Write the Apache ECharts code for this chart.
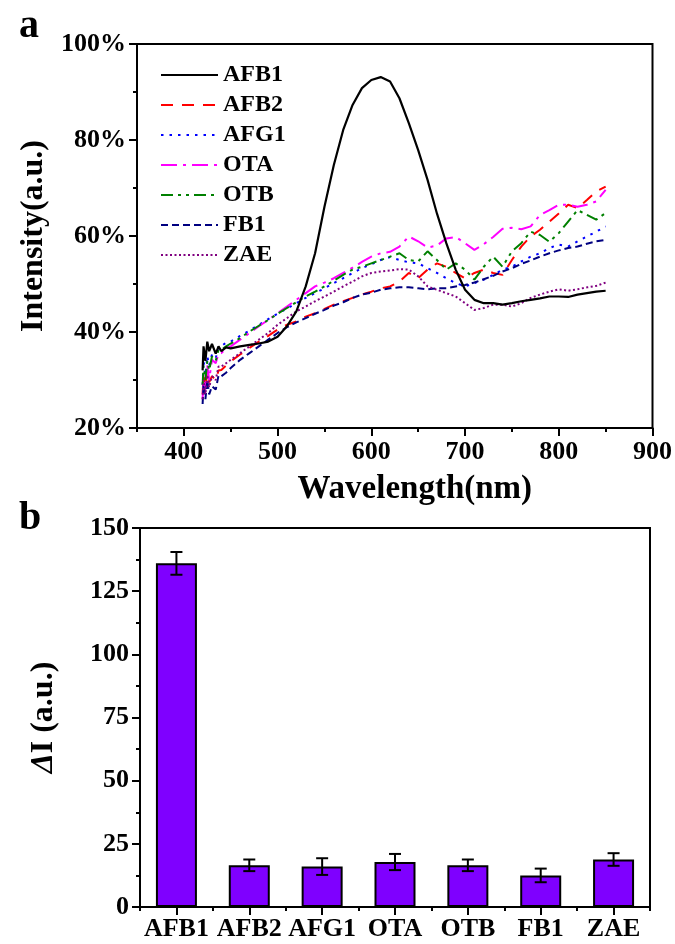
<!DOCTYPE html>
<html>
<head>
<meta charset="utf-8">
<script src="https://cdn.jsdelivr.net/npm/echarts@6/dist/echarts.min.js"></script>
<style>
  html, body { margin: 0; padding: 0; background: #fff; }
</style>
</head>
<body>
<div id="main" style="width: 675px; height: 944px"></div>
<script>
// panel a: spectra, wavelength in nm
var wavelengths = [420, 421, 423, 425, 427, 430, 434, 437, 440, 445, 450,
  460, 470, 480, 490, 500, 510, 520, 530, 540, 550, 560, 570, 580, 590, 600,
  610, 620, 630, 640, 650, 660, 670, 680, 690, 700, 710, 720, 730, 740, 750,
  760, 770, 780, 790, 800, 810, 820, 830, 840, 850];

var afb1 = [32, 37, 34, 38, 36, 37.5, 35.5, 37, 36, 36.8, 36.6,
  37.0, 37.3, 37.6, 38.0, 39.0, 41.2, 44.3, 49.5, 56.4, 66.1, 74.8, 82.1, 87.3, 90.8, 92.5,
  93.1, 92.2, 88.7, 83.5, 77.9, 71.7, 64.7, 58.5, 53.0, 48.8, 46.7, 46.0, 46.0, 45.7, 46.0,
  46.4, 46.7, 47.0, 47.4, 47.4, 47.3, 47.8, 48.1, 48.4, 48.6];
var afb2 = [27, 31, 28, 32, 29.5, 30.8, 30, 32, 32.1, 33, 33.9,
  35.3, 36.7, 38.0, 39.2, 40.5, 41.5, 42.2, 43.2, 43.9, 44.8, 45.7, 46.4, 47.1, 47.8, 48.4,
  49.1, 49.5, 50.5, 52.3, 51.2, 53.0, 54.3, 53.6, 52.3, 51.2, 52.3, 53.0, 52.3, 51.9, 55.0,
  57.8, 59.9, 61.3, 63.0, 64.7, 66.5, 65.8, 67.5, 69.3, 70.3];
var afg1 = [29, 34, 31, 35, 33, 35.3, 34.5, 37, 37, 37.8, 38,
  39.2, 40.3, 41.5, 42.7, 43.8, 44.9, 46.0, 47.1, 48.1, 49.1, 50.2, 51.2, 52.3, 53.3, 54.1,
  55.0, 55.6, 55.0, 54.5, 54.3, 53.3, 52.3, 51.2, 50.2, 49.5, 50.2, 50.9, 51.9, 53.0, 53.6,
  54.7, 55.7, 56.4, 57.5, 58.2, 57.8, 58.9, 59.9, 60.9, 62.0];
var ota = [26, 31, 28, 33, 30, 34.2, 33.5, 35.5, 35.6, 36.5, 37,
  38.4, 39.8, 41.2, 42.5, 43.9, 45.3, 46.7, 48.1, 49.5, 50.3, 51.2, 52.3, 53.4, 54.6, 55.7,
  56.4, 56.7, 57.8, 59.9, 58.9, 57.6, 58.0, 59.5, 59.8, 58.5, 57.1, 58.3, 59.8, 61.5, 61.7,
  61.4, 62.0, 64.4, 65.4, 66.5, 66.5, 66.1, 66.5, 67.2, 69.6];
var otb = [29, 33, 30, 34, 32, 34.9, 34, 36.3, 36.3, 37, 37.6,
  38.7, 40.1, 41.3, 42.5, 43.8, 45.0, 46.2, 47.4, 48.4, 49.5, 50.7, 51.9, 53.0, 53.6, 54.3,
  55.0, 55.7, 56.4, 55.0, 54.7, 56.8, 55.0, 53.0, 54.3, 53.0, 50.9, 53.6, 55.7, 53.6, 56.8,
  58.5, 60.9, 60.2, 58.8, 60.6, 63.0, 65.4, 64.4, 63.4, 64.8];
var fb1 = [25, 29, 26, 30, 27, 28.7, 28, 31, 30.8, 31.5, 32.5,
  34.2, 35.6, 37.0, 38.4, 39.8, 41.0, 42.0, 42.9, 43.8, 44.6, 45.5, 46.2, 47.1, 47.8, 48.2,
  48.8, 49.1, 49.3, 49.3, 49.1, 48.9, 49.1, 49.1, 49.5, 49.8, 50.3, 51.0, 51.7, 52.6, 53.3,
  54.2, 54.9, 55.7, 56.4, 57.0, 57.5, 57.8, 58.4, 58.9, 59.2];
var zae = [26, 30, 27, 31, 28.5, 30.8, 30, 32.8, 32.8, 33.5, 34.2,
  35.6, 37.0, 38.4, 39.8, 41.5, 42.9, 44.3, 45.3, 46.4, 47.4, 48.4, 49.5, 50.5, 51.6, 52.3,
  52.6, 52.8, 53.1, 53.0, 51.6, 49.5, 48.8, 48.1, 47.4, 46.0, 44.6, 45.0, 45.7, 45.7, 45.3,
  46.0, 47.1, 47.8, 48.4, 48.9, 48.6, 48.9, 49.3, 49.6, 50.3];

var xMajorTicks = [400, 500, 600, 700, 800, 900];

// panel b: response bars
var categories = ['AFB1', 'AFB2', 'AFG1', 'OTA', 'OTB', 'FB1', 'ZAE'];
var deltaI = [136, 16.5, 16, 17.8, 16.5, 12.5, 18.8];
var deltaErr = [4.5, 2.3, 3.3, 3.2, 2.3, 2.7, 2.5];

var font = 'Liberation Serif';
var chart = echarts.init(document.getElementById('main'));

function pairs(ys) {
  return wavelengths.map(function (w, i) { return [w, ys[i]]; });
}

function lineSeries(name, ys, color, dash, width) {
  return {
    name: name,
    type: 'line',
    xAxisIndex: 0,
    yAxisIndex: 0,
    data: pairs(ys),
    symbol: 'none',
    smooth: false,
    lineStyle: { color: color, width: width || 2, type: dash },
    itemStyle: { color: color },
    z: name === 'AFB1' ? 5 : 3
  };
}

function renderErr(params, api) {
  var i = api.value(0);
  var v = api.value(1);
  var e = api.value(2);
  var hi = api.coord([i, v + e]);
  var lo = api.coord([i, v - e]);
  var cap = 6;
  var st = { stroke: '#000', lineWidth: 2 };
  return {
    type: 'group',
    children: [
      { type: 'line', shape: { x1: hi[0], y1: hi[1], x2: lo[0], y2: lo[1] }, style: st },
      { type: 'line', shape: { x1: hi[0] - cap, y1: hi[1], x2: hi[0] + cap, y2: hi[1] }, style: st },
      { type: 'line', shape: { x1: lo[0] - cap, y1: lo[1], x2: lo[0] + cap, y2: lo[1] }, style: st }
    ]
  };
}

var tickLabel = { color: '#000', fontFamily: font, fontWeight: 'bold', fontSize: 26 };

var option = {
  animation: false,
  backgroundColor: '#fff',
  title: [
    { text: 'a', left: 14, top: 2, textStyle: { fontFamily: font, fontWeight: 'bold', fontSize: 40, color: '#000' } },
    { text: 'b', left: 14, top: 494, textStyle: { fontFamily: font, fontWeight: 'bold', fontSize: 40, color: '#000' } }
  ],
  legend: {
    data: ['AFB1', 'AFB2', 'AFG1', 'OTA', 'OTB', 'FB1', 'ZAE'],
    orient: 'vertical',
    left: 155,
    top: 58,
    itemWidth: 57,
    itemHeight: 14,
    itemGap: 6,
    itemStyle: { opacity: 0, borderWidth: 0 },
    textStyle: { color: '#000', fontFamily: font, fontWeight: 'bold', fontSize: 24, lineHeight: 20 }
  },
  grid: [
    { left: 137, top: 44, right: 22, height: 384, show: true, borderColor: '#000', borderWidth: 2 },
    { left: 140, top: 528, right: 25, height: 379, show: true, borderColor: '#000', borderWidth: 2 }
  ],
  xAxis: [
    {
      type: 'value', gridIndex: 0, min: 350, max: 900, interval: 50,
      name: 'Wavelength(nm)', nameLocation: 'middle', nameGap: 45,
      nameTextStyle: { color: '#000', fontFamily: font, fontWeight: 'bold', fontSize: 33, padding: [0, 0, 0, 40] },
      axisLine: { show: true, lineStyle: { color: '#000', width: 2 } },
      axisTick: { show: true, inside: false, length: 4, lineStyle: { color: '#000', width: 2 } },
      axisLabel: Object.assign({ margin: 11, customValues: xMajorTicks }, tickLabel),
      splitLine: { show: false }
    },
    {
      type: 'value', gridIndex: 0, min: 350, max: 900, position: 'bottom',
      axisLine: { show: false },
      axisTick: { show: true, length: 8, customValues: xMajorTicks, lineStyle: { color: '#000', width: 2 } },
      axisLabel: { show: false },
      splitLine: { show: false }
    },
    {
      type: 'category', gridIndex: 1, data: categories, boundaryGap: true,
      axisLine: { show: true, lineStyle: { color: '#000', width: 2 } },
      axisTick: { show: true, alignWithLabel: true, length: 8, interval: 0, lineStyle: { color: '#000', width: 2 } },
      axisLabel: Object.assign({ margin: 9, interval: 0 }, tickLabel),
      splitLine: { show: false }
    },
    {
      type: 'category', gridIndex: 1, data: categories, boundaryGap: true, position: 'bottom',
      axisLine: { show: false },
      axisTick: { show: true, alignWithLabel: false, length: 4, interval: 0, lineStyle: { color: '#000', width: 2 } },
      axisLabel: { show: false },
      splitLine: { show: false }
    }
  ],
  yAxis: [
    {
      type: 'value', gridIndex: 0, min: 20, max: 100, interval: 20,
      name: 'Intensity(a.u.)', nameLocation: 'middle', nameGap: 76,
      nameTextStyle: { color: '#000', fontFamily: font, fontWeight: 'bold', fontSize: 32 },
      axisLine: { show: true, lineStyle: { color: '#000', width: 2 } },
      axisTick: { show: true, inside: false, length: 8, lineStyle: { color: '#000', width: 2 } },
      minorTick: { show: true, splitNumber: 2, length: 4, lineStyle: { color: '#000', width: 2 } },
      axisLabel: Object.assign({ margin: 11, formatter: '{value}%' }, tickLabel),
      splitLine: { show: false }
    },
    {
      type: 'value', gridIndex: 1, min: 0, max: 150, interval: 25,
      name: '{d|Δ}{n|I (a.u.)}', nameLocation: 'middle', nameGap: 80,
      nameTextStyle: {
        color: '#000', fontFamily: font, fontWeight: 'bold', fontSize: 32,
        rich: {
          d: { fontFamily: font, fontWeight: 'bold', fontStyle: 'italic', fontSize: 32, color: '#000' },
          n: { fontFamily: font, fontWeight: 'bold', fontSize: 32, color: '#000' }
        }
      },
      axisLine: { show: true, lineStyle: { color: '#000', width: 2 } },
      axisTick: { show: true, inside: false, length: 8, lineStyle: { color: '#000', width: 2 } },
      minorTick: { show: true, splitNumber: 2, length: 4, lineStyle: { color: '#000', width: 2 } },
      axisLabel: Object.assign({ margin: 11 }, tickLabel),
      splitLine: { show: false }
    }
  ],
  series: [
    lineSeries('AFB1', afb1, '#000000', 'solid', 2.2),
    lineSeries('AFB2', afb2, '#ff0000', [12, 9]),
    lineSeries('AFG1', afg1, '#0000ff', [2.5, 6]),
    lineSeries('OTA', ota, '#ff00ff', [16, 6, 3, 6]),
    lineSeries('OTB', otb, '#008000', [12, 5, 3, 5, 3, 5]),
    lineSeries('FB1', fb1, '#000080', [7, 4]),
    lineSeries('ZAE', zae, '#800080', [2, 2.5]),
    {
      name: 'ΔI',
      type: 'bar',
      xAxisIndex: 2,
      yAxisIndex: 1,
      data: deltaI,
      barWidth: 41,
      itemStyle: { color: '#7f00ff', borderColor: '#000', borderWidth: 2 }
    },
    {
      name: 'err',
      type: 'custom',
      xAxisIndex: 2,
      yAxisIndex: 1,
      data: categories.map(function (c, i) { return [i, deltaI[i], deltaErr[i]]; }),
      renderItem: renderErr,
      z: 10
    }
  ]
};

chart.setOption(option);
</script>
</body>
</html>
